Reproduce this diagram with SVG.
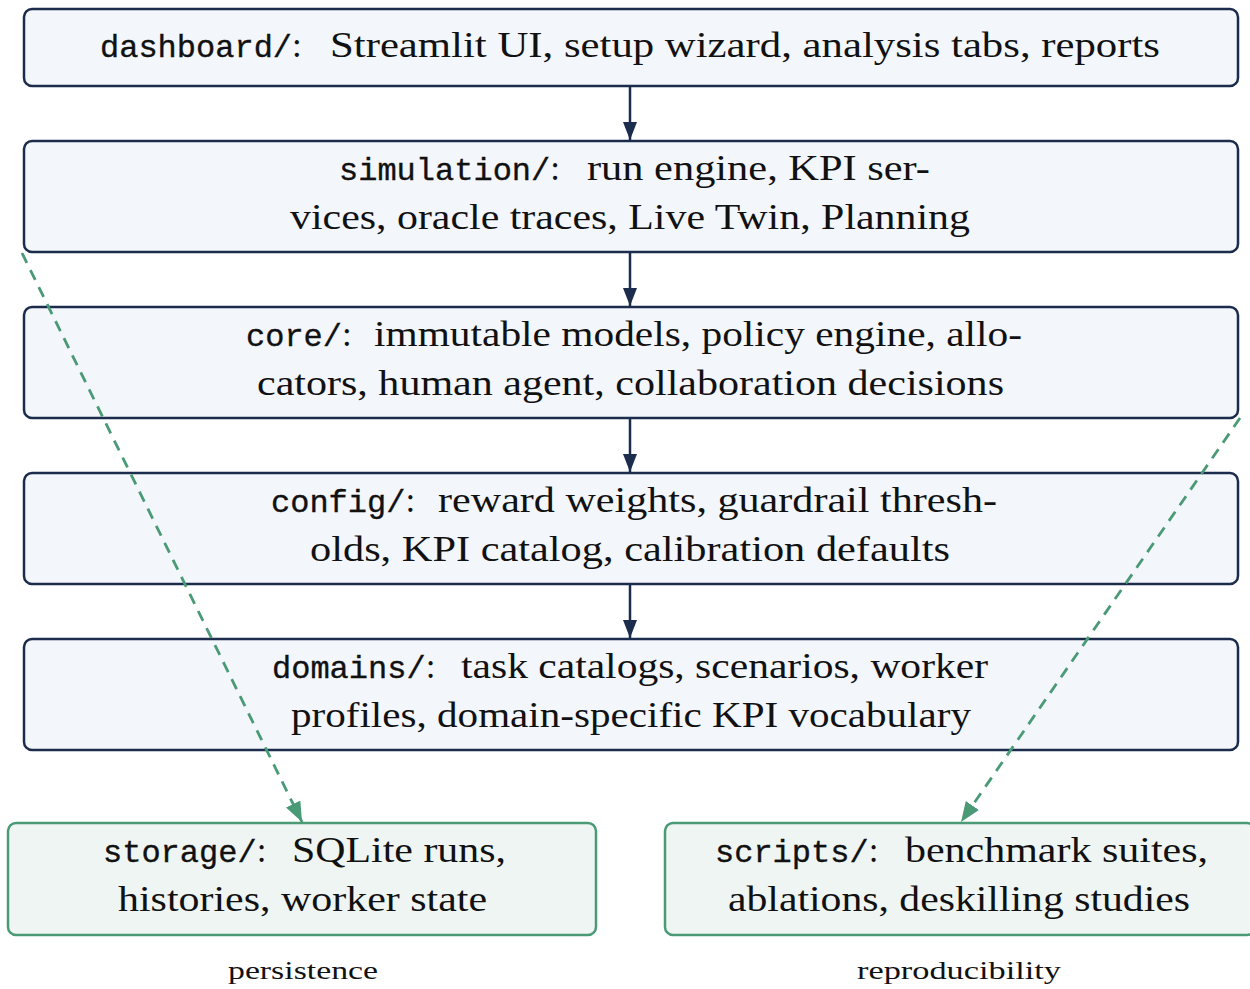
<svg xmlns="http://www.w3.org/2000/svg" width="1250" height="989" viewBox="0 0 1250 989">
<defs>
<style>
.layer{fill:#f3f6fb;stroke:#1b2c4c;stroke-width:2.5}
.side{fill:#eff5f2;stroke:#4a9a76;stroke-width:2.5}
.t{font-family:"Liberation Serif","DejaVu Serif",serif;font-size:35px;fill:#111}
.m{font-family:"Liberation Mono","DejaVu Sans Mono",monospace;font-size:32px;stroke:#111;stroke-width:0.35}
.lab{font-family:"Liberation Serif","DejaVu Serif",serif;font-size:26px;fill:#111}
.solid{stroke:#1b2c4c;stroke-width:2.5;fill:none}
.dash{stroke:#4a9a76;stroke-width:2.8;fill:none;stroke-dasharray:11 8}
</style>
<marker id="ah" markerWidth="18" markerHeight="14" refX="18" refY="7" orient="auto" markerUnits="userSpaceOnUse">
<path d="M0,0 L18,7 L0,14 Z" fill="#1b2c4c"/>
</marker>
<marker id="gh" markerWidth="20" markerHeight="16" refX="20" refY="8" orient="auto" markerUnits="userSpaceOnUse">
<path d="M0,0 L20,8 L0,16 Z" fill="#4a9a76"/>
</marker>
</defs>
<g id="dashboard">
<rect class="layer" x="24" y="9" width="1214" height="77" rx="8"/>
<text class="t" x="100" y="57"><tspan class="m">dashboard/</tspan>: <tspan x="330" textLength="830" lengthAdjust="spacingAndGlyphs">Streamlit UI, setup wizard, analysis tabs, reports</tspan></text>
</g>
<g id="simulation">
<rect class="layer" x="24" y="141" width="1214" height="111" rx="8"/>
<text class="t" x="339" y="180"><tspan class="m">simulation/</tspan>: <tspan x="587" textLength="343" lengthAdjust="spacingAndGlyphs">run engine, KPI ser-</tspan></text>
<text class="t" x="290" y="229" textLength="680" lengthAdjust="spacingAndGlyphs">vices, oracle traces, Live Twin, Planning</text>
</g>
<g id="core">
<rect class="layer" x="24" y="307" width="1214" height="111" rx="8"/>
<text class="t" x="246" y="346"><tspan class="m">core/</tspan>: <tspan x="374" textLength="648" lengthAdjust="spacingAndGlyphs">immutable models, policy engine, allo-</tspan></text>
<text class="t" x="257" y="395" textLength="747" lengthAdjust="spacingAndGlyphs">cators, human agent, collaboration decisions</text>
</g>
<g id="config">
<rect class="layer" x="24" y="473" width="1214" height="111" rx="8"/>
<text class="t" x="271" y="512"><tspan class="m">config/</tspan>: <tspan x="438" textLength="559" lengthAdjust="spacingAndGlyphs">reward weights, guardrail thresh-</tspan></text>
<text class="t" x="310" y="561" textLength="640" lengthAdjust="spacingAndGlyphs">olds, KPI catalog, calibration defaults</text>
</g>
<g id="domains">
<rect class="layer" x="24" y="639" width="1214" height="111" rx="8"/>
<text class="t" x="272" y="678"><tspan class="m">domains/</tspan>: <tspan x="461" textLength="527" lengthAdjust="spacingAndGlyphs">task catalogs, scenarios, worker</tspan></text>
<text class="t" x="291" y="727" textLength="680" lengthAdjust="spacingAndGlyphs">profiles, domain-specific KPI vocabulary</text>
</g>
<g id="storage">
<rect class="side" x="8" y="823" width="588" height="112" rx="8"/>
<text class="t" x="103" y="862"><tspan class="m">storage/</tspan>: <tspan x="292" textLength="214" lengthAdjust="spacingAndGlyphs">SQLite runs,</tspan></text>
<text class="t" x="118" y="911" textLength="369" lengthAdjust="spacingAndGlyphs">histories, worker state</text>
<text class="lab" x="228" y="979" textLength="150" lengthAdjust="spacingAndGlyphs">persistence</text>
</g>
<g id="scripts">
<rect class="side" x="665" y="823" width="590" height="112" rx="8"/>
<text class="t" x="715" y="862"><tspan class="m">scripts/</tspan>: <tspan x="905" textLength="303" lengthAdjust="spacingAndGlyphs">benchmark suites,</tspan></text>
<text class="t" x="728" y="911" textLength="462" lengthAdjust="spacingAndGlyphs">ablations, deskilling studies</text>
<text class="lab" x="857" y="979" textLength="204" lengthAdjust="spacingAndGlyphs">reproducibility</text>
</g>
<g id="connectors">
<line class="solid" x1="630" y1="86" x2="630" y2="140" marker-end="url(#ah)"/>
<line class="solid" x1="630" y1="252" x2="630" y2="306" marker-end="url(#ah)"/>
<line class="solid" x1="630" y1="418" x2="630" y2="472" marker-end="url(#ah)"/>
<line class="solid" x1="630" y1="584" x2="630" y2="638" marker-end="url(#ah)"/>
<line class="dash" x1="22" y1="253" x2="302" y2="822" marker-end="url(#gh)"/>
<line class="dash" x1="1240" y1="418" x2="961" y2="822" marker-end="url(#gh)"/>
</g>
</svg>
